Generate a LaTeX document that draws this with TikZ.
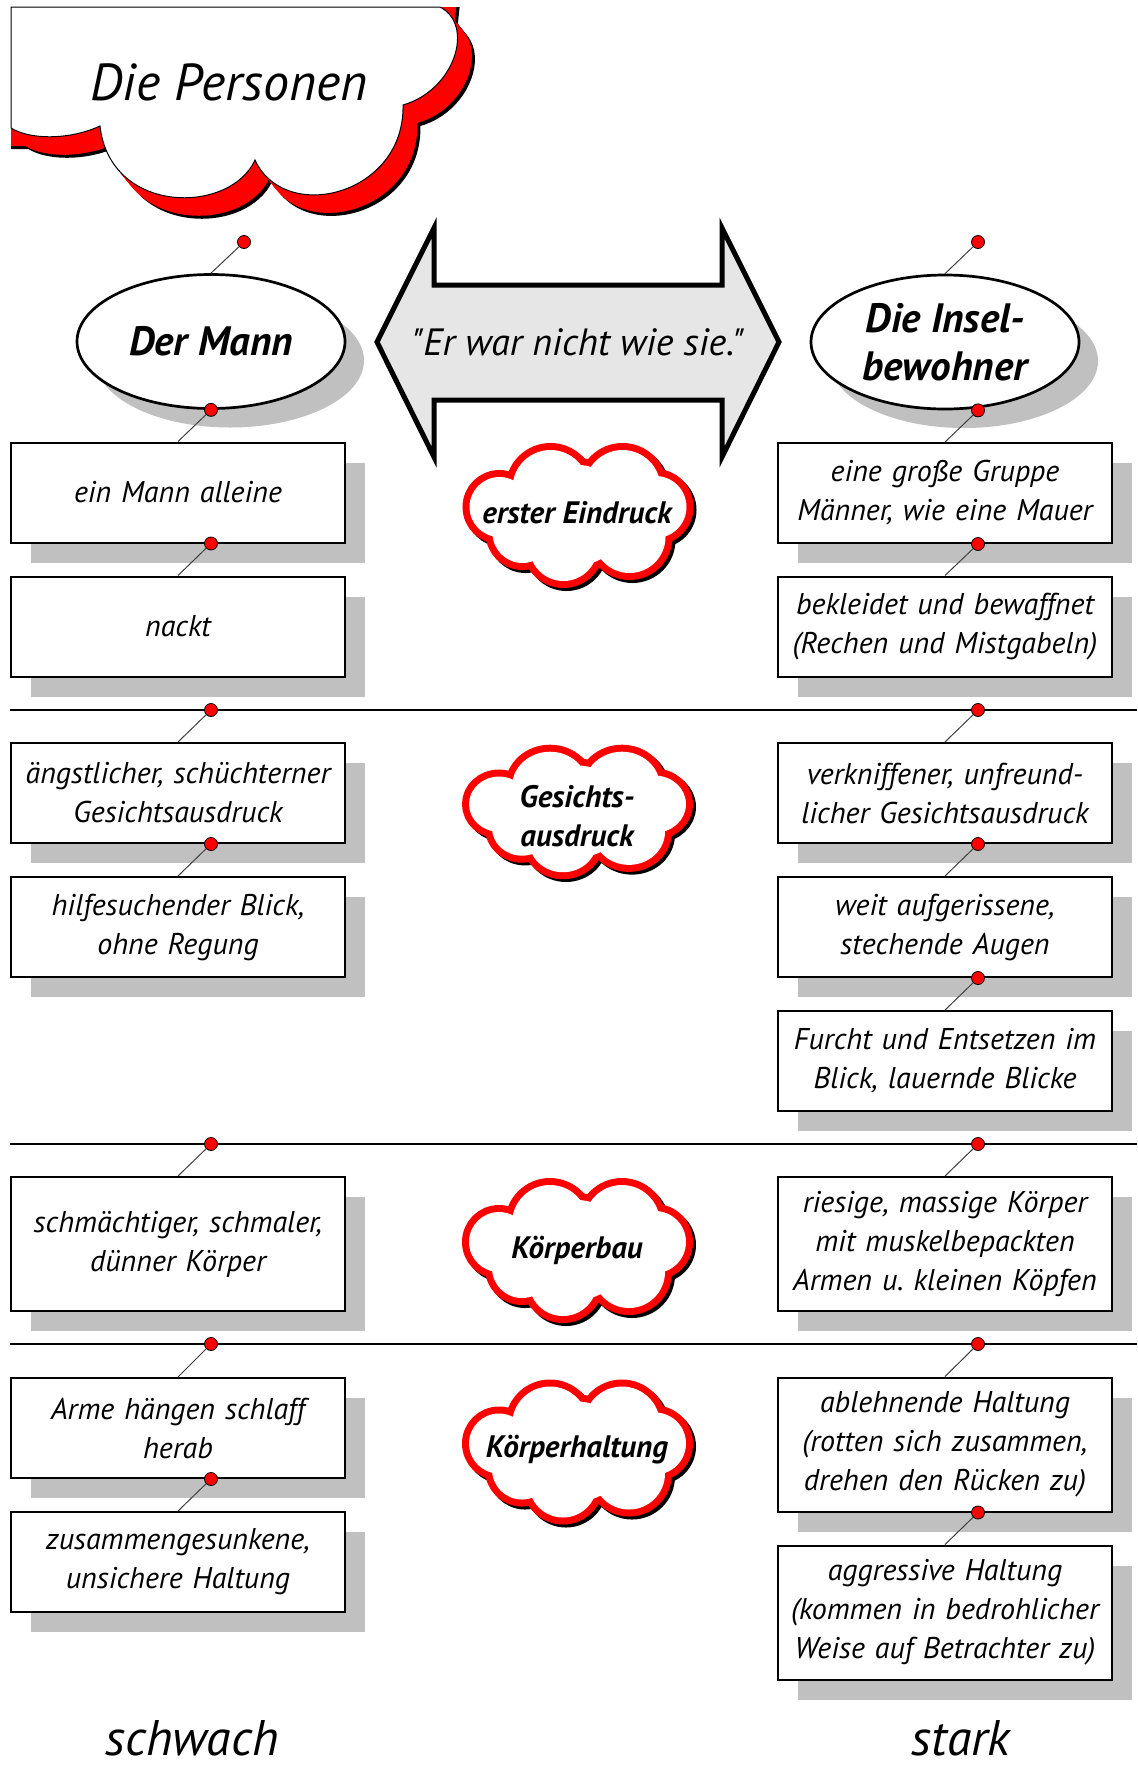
\documentclass[tikz,border=0pt]{standalone}
\usepackage{fontspec}
\setmainfont{PT Sans}
\newfontfamily\straightquotes{PT Sans}[Ligatures=TeXOff]
\usetikzlibrary{shapes.geometric,shadows}

\definecolor{shadowgray}{RGB}{192,192,192}
\definecolor{arrowgray}{RGB}{230,230,230}
\definecolor{pinred}{RGB}{255,0,0}

% outline of the title cloud (cut by the top and left edges)
\def\titlecloud{(11,7) -- (440,7)
  .. controls (475,25) and (455,90) .. (403,105)
  .. controls (405,195) and (285,225) .. (255,160)
  .. controls (230,215) and (110,215) .. (100,126)
  .. controls (70,140) and (30,140) .. (11,128) -- cycle}
% same outline, extended beyond the edges, used for the extruded side
\def\titlecloudext{(-40,-40) -- (445,-40) -- (440,7)
  .. controls (475,25) and (455,90) .. (403,105)
  .. controls (405,195) and (285,225) .. (255,160)
  .. controls (230,215) and (110,215) .. (100,126)
  .. controls (70,140) and (30,140) .. (11,128) -- (-40,128) -- cycle}
% puffs of the small topic clouds, relative to the cloud centre
\def\cloudpuffs{(-27,-27) circle (38) (45,-27) circle (38) (78,-8) circle (31)
  (52,22) circle (36) (-14,32) circle (34) (-78,-8) circle (30)
  (-55,18) circle (30) (0,0) circle (50)}

\newcommand\puffcloud[3]{%
  \begin{scope}[shift={(#1,#2)}, yscale=#3]
    \draw[black, line width=7pt, shift={(3,3)}] \cloudpuffs;
    \draw[pinred, line width=7pt] \cloudpuffs;
    \fill[white] \cloudpuffs;
  \end{scope}}

\tikzset{
  card/.style={rectangle, draw=black, line width=1pt, fill=white,
    minimum width=167pt, minimum height=50pt, inner sep=0pt,
    text width=165pt, align=center,
    font=\fontsize{15pt}{19.5pt}\selectfont\itshape,
    drop shadow={shadow xshift=10pt, shadow yshift=-10pt, fill=shadowgray, opacity=1}},
  tallcard/.style={card, minimum height=67pt},
  who/.style={ellipse, draw=black, line width=1.35pt, fill=white,
    minimum width=134pt, minimum height=67pt, inner sep=0pt, align=center,
    font=\fontsize{20.5pt}{24pt}\selectfont\bfseries\itshape,
    drop shadow={shadow xshift=9.5pt, shadow yshift=-9.5pt, fill=shadowgray, opacity=1}},
  pin/.style={circle, fill=pinred, draw=black, line width=0.4pt,
    minimum size=6.5pt, inner sep=0pt},
  link/.style={draw=black!75, line width=0.5pt},
  divider/.style={draw=black, line width=1.3pt},
  topic/.style={align=center, inner sep=0pt,
    font=\fontsize{15.5pt}{19.5pt}\selectfont\bfseries\itshape},
  scaleend/.style={anchor=base, font=\fontsize{25pt}{28pt}\selectfont\itshape},
}

\begin{document}
\begin{tikzpicture}[x=0.5pt, y=-0.5pt]
\fill[white] (0,0) rectangle (1137,1767);
\useasboundingbox (0,0) rectangle (1137,1767);

% title cloud with its red extruded side
\begin{scope}
  \clip (11,7) rectangle (1137,1767);
  \foreach \t in {0,...,18} {
    \fill[black, shift={({0.8*\t+3},{\t+3})}] \titlecloudext;
  }
  \foreach \t in {0,...,18} {
    \fill[pinred, shift={({0.8*\t},{\t})}] \titlecloudext;
  }
\end{scope}
\filldraw[fill=white, draw=black, line width=0.5pt] \titlecloud;
\node[font=\fontsize{26pt}{30pt}\selectfont\itshape, anchor=base] (title) at (229,100) {Die Personen};

% section dividers
\draw[divider] (10,710) -- (1137,710);
\draw[divider] (10,1144) -- (1137,1144);
\draw[divider] (10,1344) -- (1137,1344);

% double arrow in the middle
\draw[line width=2.5pt, fill=arrowgray, line join=miter]
  (377,342) -- (434,228) -- (434,285) -- (722,285) -- (722,228) -- (779,342)
  -- (722,457) -- (722,400) -- (434,400) -- (434,457) -- cycle;
\node[font=\fontsize{19pt}{22pt}\selectfont\straightquotes\itshape, anchor=base] (quote) at (578,355)
  {"Er war nicht wie sie."};

% topic clouds
\puffcloud{577.5}{515}{1}
\puffcloud{577}{811.5}{0.92}
\puffcloud{577}{1250}{1}
\puffcloud{577}{1451.5}{1}
\node[topic, anchor=base] (t1) at (577,523) {erster Eindruck};
\node[topic] (t2) at (577,816) {Gesichts-\\ausdruck};
\node[topic, anchor=base] (t3) at (577,1258) {Körperbau};
\node[topic, anchor=base] (t4) at (577,1457) {Körperhaltung};

% the two persons
\node[who] (LE) at (211,341.5) {Der Mann};
\node[who] (RE) at (945,342) {Die Insel-\\bewohner};

% left column: der Mann
\node[card] (L1) at (178,492.5) {ein Mann alleine};
\node[card] (L2) at (178,626.5) {nackt};
\node[card] (L3) at (178,793) {ängstlicher, schüchterner\\Gesichtsausdruck};
\node[card] (L4) at (178,927) {hilfesuchender Blick,\\ohne Regung};
\node[tallcard] (L5) at (178,1244) {schmächtiger, schmaler,\\dünner Körper};
\node[card] (L6) at (178,1428) {Arme hängen schlaff\\herab};
\node[card] (L7) at (178,1562) {zusammengesunkene,\\unsichere Haltung};

% right column: die Inselbewohner
\node[card] (R1) at (945,493) {eine große Gruppe\\Männer, wie eine Mauer};
\node[card] (R2) at (945,626.5) {bekleidet und bewaffnet\\(Rechen und Mistgabeln)};
\node[card] (R3) at (945,793) {verkniffener, unfreund-\\licher Gesichtsausdruck};
\node[card] (R4) at (945,927) {weit aufgerissene,\\stechende Augen};
\node[card] (R5) at (945,1061) {Furcht und Entsetzen im\\Blick, lauernde Blicke};
\node[tallcard] (R6) at (945,1244) {riesige, massige Körper\\mit muskelbepackten\\Armen u.~kleinen Köpfen};
\node[tallcard] (R7) at (945,1444.5) {ablehnende Haltung\\(rotten sich zusammen,\\drehen den Rücken zu)};
\node[tallcard] (R8) at (945,1612.5) {aggressive Haltung\\(kommen in bedrohlicher\\Weise auf Betrachter zu)};

% pins
\node[pin] (p0L) at (244,242) {};
\node[pin] (p1L) at (LE.south) {};
\node[pin] (p2L) at ([xshift=16.5pt]L1.south) {};
\node[pin] (p3L) at (211,710) {};
\node[pin] (p4L) at ([xshift=16.5pt]L3.south) {};
\node[pin] (p5L) at (211,1144) {};
\node[pin] (p6L) at (211,1344) {};
\node[pin] (p7L) at ([xshift=16.5pt]L6.south) {};

\node[pin] (p0R) at (978,242) {};
\node[pin] (p1R) at ([xshift=16.5pt]RE.south) {};
\node[pin] (p2R) at ([xshift=16.5pt]R1.south) {};
\node[pin] (p3R) at (978,710) {};
\node[pin] (p4R) at ([xshift=16.5pt]R3.south) {};
\node[pin] (p5R) at ([xshift=16.5pt]R4.south) {};
\node[pin] (p6R) at (978,1144) {};
\node[pin] (p7R) at (978,1344) {};
\node[pin] (p8R) at ([xshift=16.5pt]R7.south) {};

% links from pins to the items below
\draw[link] (p0L) -- (LE.north);
\draw[link] (p1L) -- (L1.north);
\draw[link] (p2L) -- (L2.north);
\draw[link] (p3L) -- (L3.north);
\draw[link] (p4L) -- (L4.north);
\draw[link] (p5L) -- (L5.north);
\draw[link] (p6L) -- (L6.north);
\draw[link] (p7L) -- (L7.north);

\draw[link] (p0R) -- (RE.north);
\draw[link] (p1R) -- (R1.north);
\draw[link] (p2R) -- (R2.north);
\draw[link] (p3R) -- (R3.north);
\draw[link] (p4R) -- (R4.north);
\draw[link] (p5R) -- (R5.north);
\draw[link] (p6R) -- (R6.north);
\draw[link] (p7R) -- (R7.north);
\draw[link] (p8R) -- (R8.north);

% scale ends
\node[scaleend] (weak) at (192,1755) {schwach};
\node[scaleend] (strong) at (961,1755) {stark};
\end{tikzpicture}
\end{document}
